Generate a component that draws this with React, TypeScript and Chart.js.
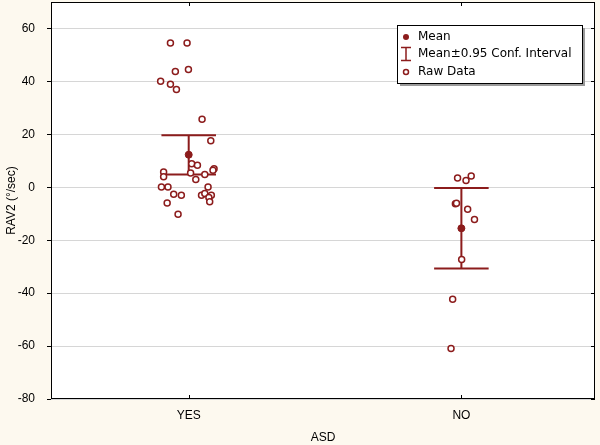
import React, { useEffect, useRef } from "react";
import { Chart, registerables } from "chart.js";

Chart.register(...registerables);

// ---- data ----
const categories = ["YES", "NO"];
const categoryX = [1, 2];

const yesRawX = [0.933, 0.994, 0.951, 0.999, 0.897, 0.933, 0.955, 1.049, 1.081, 1.011, 1.032, 1.093, 1.089, 0.908, 0.908, 1.007, 1.059, 1.026, 0.9, 0.924, 1.071, 0.945, 0.973, 1.047, 1.059, 1.083, 1.074, 1.077, 0.921, 0.961];
const yesRawY = [54.5, 54.5, 43.7, 44.5, 40.1, 38.9, 36.9, 25.7, 17.6, 8.9, 8.3, 7.0, 6.4, 5.8, 4.0, 5.4, 4.8, 2.9, 0.1, 0.1, 0.1, -2.6, -3.0, -3.0, -2.4, -3.0, -3.9, -5.5, -5.9, -10.2];

const noRawX = [1.986, 2.017, 2.036, 1.978, 1.982, 2.023, 2.048, 2.001, 1.968, 1.962];
const noRawY = [3.5, 2.6, 4.3, -6.2, -6.0, -8.3, -12.2, -27.3, -42.3, -60.9];

const means = [12.3, -15.5];
const ciLow = [4.8, -30.7];
const ciHigh = [19.7, -0.3];
const capHalfWidth = 0.1;

const yTicks = [-80, -60, -40, -20, 0, 20, 40, 60];

const COLOR = "#8c1c1c";
const BG = "#fdf9ef";

function buildCI() {
  const pts: any[] = [];
  categoryX.forEach((c, i) => {
    pts.push({ x: c, y: ciLow[i] }, { x: c, y: ciHigh[i] }, { x: c, y: null });
    pts.push({ x: c - capHalfWidth, y: ciHigh[i] }, { x: c + capHalfWidth, y: ciHigh[i] }, { x: c, y: null });
    pts.push({ x: c - capHalfWidth, y: ciLow[i] }, { x: c + capHalfWidth, y: ciLow[i] }, { x: c, y: null });
  });
  return pts;
}

const framePlugin = {
  id: "frame",
  beforeDraw(chart: any) {
    const { ctx, chartArea: a, width, height } = chart;
    ctx.save();
    ctx.fillStyle = BG;
    ctx.fillRect(0, 0, width, height);
    ctx.fillStyle = "#ffffff";
    ctx.fillRect(a.left, a.top, a.right - a.left, a.bottom - a.top);
    ctx.restore();
  },
  afterDraw(chart: any) {
    const { ctx, chartArea: a } = chart;
    const xs = chart.scales.x;
    const ys = chart.scales.y;
    ctx.save();
    ctx.strokeStyle = "#000";
    ctx.lineWidth = 1;
    ctx.strokeRect(Math.round(a.left) + 0.5, Math.round(a.top) + 0.5, Math.round(a.right - a.left) - 1, Math.round(a.bottom - a.top) - 1);
    ctx.beginPath();
    categoryX.forEach((c) => {
      const px = Math.round(xs.getPixelForValue(c)) + 0.5;
      ctx.moveTo(px, a.top);
      ctx.lineTo(px, a.top + 4);
      ctx.moveTo(px, a.bottom);
      ctx.lineTo(px, a.bottom - 4);
    });
    yTicks.forEach((v) => {
      const py = Math.round(ys.getPixelForValue(v)) + 0.5;
      ctx.moveTo(a.right, py);
      ctx.lineTo(a.right - 4, py);
    });
    ctx.stroke();

    // legend
    const lx = 397, ly = 25, lw = 185, lh = 58;
    ctx.fillStyle = "#9a9a9a";
    ctx.fillRect(lx + 3, ly + 3, lw, lh);
    ctx.fillStyle = "#fff";
    ctx.fillRect(lx, ly, lw, lh);
    ctx.strokeStyle = "#000";
    ctx.strokeRect(lx + 0.5, ly + 0.5, lw, lh);

    ctx.font = "12px 'DejaVu Sans'";
    ctx.fillStyle = "#000";
    ctx.textBaseline = "middle";
    ctx.textAlign = "left";
    ctx.fillText("Mean", 418, 37);
    ctx.fillText("Mean\u00b10.95 Conf. Interval", 418, 54);
    ctx.fillText("Raw Data", 418, 72);

    ctx.fillStyle = COLOR;
    ctx.beginPath();
    ctx.arc(406, 37, 3, 0, Math.PI * 2);
    ctx.fill();
    ctx.strokeStyle = COLOR;
    ctx.lineWidth = 1.5;
    ctx.beginPath();
    ctx.moveTo(406, 47);
    ctx.lineTo(406, 61);
    ctx.moveTo(401, 47.5);
    ctx.lineTo(411, 47.5);
    ctx.moveTo(401, 60.5);
    ctx.lineTo(411, 60.5);
    ctx.stroke();
    ctx.fillStyle = "#fff";
    ctx.beginPath();
    ctx.arc(406, 72, 2.5, 0, Math.PI * 2);
    ctx.fill();
    ctx.stroke();
    ctx.restore();
  },
};

export default function App() {
  const ref = useRef<HTMLCanvasElement | null>(null);
  useEffect(() => {
    document.body.style.margin = "0";
    if (!ref.current) return;
    const rawYes = yesRawX.map((x, i) => ({ x, y: yesRawY[i] }));
    const rawNo = noRawX.map((x, i) => ({ x, y: noRawY[i] }));
    const meanPts = categoryX.map((x, i) => ({ x, y: means[i] }));
    const chart = new Chart(ref.current, {
      type: "scatter",
      data: {
        datasets: [
          {
            type: "line",
            label: "CI",
            data: buildCI(),
            borderColor: COLOR,
            borderWidth: 2,
            pointRadius: 0,
            showLine: true,
            spanGaps: false,
            order: 3,
          } as any,
          {
            label: "Mean",
            data: meanPts,
            backgroundColor: COLOR,
            borderColor: COLOR,
            pointRadius: 3.5,
            order: 2,
          },
          {
            label: "Raw YES",
            data: rawYes,
            backgroundColor: "#ffffff",
            borderColor: COLOR,
            borderWidth: 1.5,
            pointRadius: 3,
            order: 1,
          },
          {
            label: "Raw NO",
            data: rawNo,
            backgroundColor: "#ffffff",
            borderColor: COLOR,
            borderWidth: 1.5,
            pointRadius: 3,
            order: 1,
          },
        ],
      },
      options: {
        responsive: false,
        animation: false,
        layout: { autoPadding: false, padding: { top: 2, right: 5, left: 0, bottom: 0 } },
        plugins: { legend: { display: false }, tooltip: { enabled: false } },
        scales: {
          x: {
            type: "linear",
            min: 0.495,
            max: 2.49,
            afterBuildTicks: (s: any) => {
              s.ticks = categoryX.map((v) => ({ value: v }));
            },
            afterFit: (s: any) => {
              s.height = 46;
              s.paddingLeft = 0;
              s.paddingRight = 0;
            },
            grid: { display: false, drawTicks: false },
            border: { display: false },
            ticks: {
              padding: 9,
              color: "#000",
              font: { family: "'Liberation Sans', Arial", size: 12 },
              callback: (v: any) => categories[categoryX.indexOf(Number(v))] ?? "",
            },
            title: {
              display: true,
              text: "ASD",
              color: "#000",
              font: { family: "'Liberation Sans', Arial", size: 12 },
              padding: { top: 0, bottom: 0 },
            },
          },
          y: {
            min: -80,
            max: 70,
            afterBuildTicks: (s: any) => {
              s.ticks = yTicks.map((v) => ({ value: v }));
            },
            afterFit: (s: any) => {
              s.width = 51;
              s.paddingTop = 0;
              s.paddingBottom = 0;
            },
            grid: {
              color: "#d6d6d6",
              drawTicks: true,
              tickLength: 4,
              tickColor: "#000",
            },
            border: { display: false },
            ticks: {
              padding: 12,
              color: "#000",
              font: { family: "'Liberation Sans', Arial", size: 12 },
            },
            title: {
              display: true,
              text: "RAV2 (\u00b0/sec)",
              color: "#000",
              font: { family: "'Liberation Sans', Arial", size: 12 },
              padding: { top: 4, bottom: 0 },
            },
          },
        },
      },
      plugins: [framePlugin],
    });
    return () => chart.destroy();
  }, []);
  return (
    <div style={{ width: 600, height: 445 }}>
      <canvas ref={ref} width={600} height={445} style={{ display: "block" }} />
    </div>
  );
}
